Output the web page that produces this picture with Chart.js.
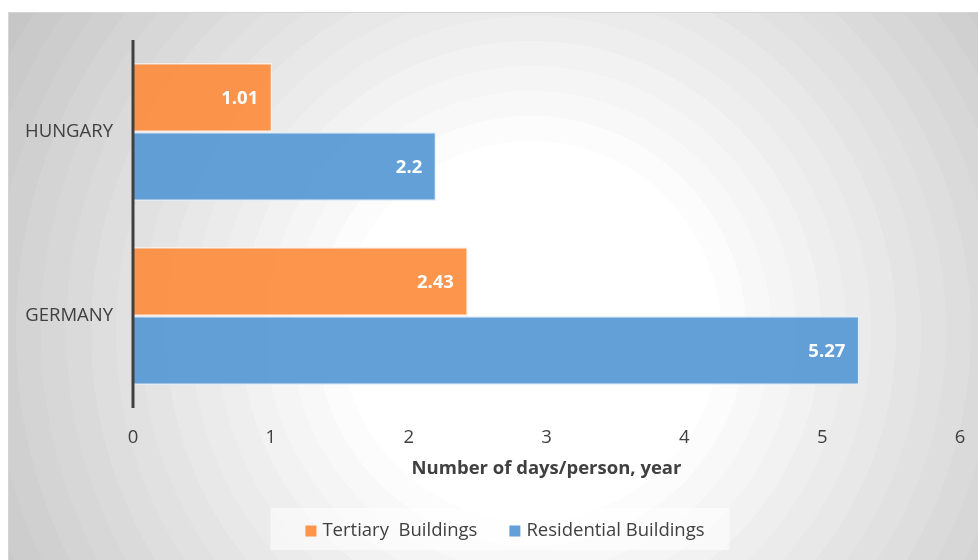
<!DOCTYPE html>
<html>
<head>
<meta charset="utf-8">
<script src="https://cdn.jsdelivr.net/npm/chart.js@4/dist/chart.umd.min.js"></script>
<style>
  html, body { margin: 0; padding: 0; background: #fff; overflow: hidden; }
  #wrap {
    position: absolute; left: 8px; top: 12px; width: 970px; height: 548px;
    border-left: 1px solid #d4d4d4; border-top: 1px solid #d4d4d4;
  }
</style>
</head>
<body>
<div id="wrap"><canvas id="chart"></canvas></div>
<script>
const countries = ['HUNGARY', 'GERMANY'];
const tertiary = [1.01, 2.43];
const residential = [2.2, 5.27];
const seriesNames = ['Tertiary  Buildings', 'Residential Buildings'];
const xTicks = [0, 1, 2, 3, 4, 5, 6];

const FONT = '"Open Sans", "Noto Sans", sans-serif';
const TEXT = '#404040';
const ORANGE = 'rgba(253,140,62,0.92)';
const BLUE = 'rgba(86,152,212,0.92)';

// banded radial backdrop, white in the middle fading to grey at the corners
const backdrop = {
  id: 'backdrop',
  beforeDraw(chart) {
    const { ctx, width, height } = chart;
    const cx = 522, cy = 318, R = 640;
    const g = ctx.createRadialGradient(cx, cy, 0, cx, cy, R);
    const inner = 190 / R;
    g.addColorStop(0, '#ffffff');
    g.addColorStop(inner, '#ffffff');
    const steps = 18;
    for (let i = 0; i < steps; i++) {
      const a = inner + (1 - inner) * i / steps;
      const b = inner + (1 - inner) * (i + 1) / steps;
      const v = Math.round(255 - 60 * (i + 1) / steps);
      const c = `rgb(${v},${v},${v})`;
      g.addColorStop(a + 0.0001, c);
      g.addColorStop(b, c);
    }
    ctx.save();
    ctx.fillStyle = g;
    ctx.fillRect(0, 0, width, height);
    ctx.restore();
  }
};

// value labels inside the end of every bar, then the category axis line on top
const barValues = {
  id: 'barValues',
  afterDatasetsDraw(chart) {
    const { ctx, chartArea } = chart;
    ctx.save();
    ctx.font = 'bold 18.5px ' + FONT;
    ctx.fillStyle = '#ffffff';
    ctx.textAlign = 'right';
    ctx.textBaseline = 'middle';
    chart.data.datasets.forEach((ds, di) => {
      chart.getDatasetMeta(di).data.forEach((bar, i) => {
        ctx.fillText(String(ds.data[i]), bar.x - 14, bar.y + 1);
      });
    });
    const x0 = chart.scales.x.getPixelForValue(0);
    ctx.strokeStyle = '#404040';
    ctx.lineWidth = 3;
    ctx.beginPath();
    ctx.moveTo(x0, chartArea.top);
    ctx.lineTo(x0, chartArea.bottom);
    ctx.stroke();
    ctx.restore();
  }
};

// legend row with a pale box behind it, under the axis title
const legendRow = {
  id: 'legendRow',
  afterDraw(chart) {
    const { ctx } = chart;
    const centerX = 496, centerY = 517;
    const box = 11, gap = 6, itemGap = 32;
    ctx.save();
    ctx.font = '18.5px ' + FONT;
    const items = chart.data.datasets.map(ds => ({
      text: ds.label, color: ds.backgroundColor, w: ctx.measureText(ds.label).width
    }));
    const total = items.reduce((s, it) => s + box + gap + it.w, 0) + itemGap * (items.length - 1);
    let x = centerX - total / 2;
    ctx.fillStyle = 'rgba(255,255,255,0.55)';
    ctx.fillRect(x - 35, centerY - 22, total + 60, 42);
    ctx.textBaseline = 'middle';
    items.forEach(it => {
      ctx.fillStyle = it.color;
      ctx.fillRect(x, centerY + 1 - box / 2, box, box);
      ctx.fillStyle = TEXT;
      ctx.fillText(it.text, x + box + gap, centerY + 1);
      x += box + gap + it.w + itemGap;
    });
    ctx.restore();
  }
};

new Chart(document.getElementById('chart'), {
  type: 'bar',
  data: {
    labels: countries,
    datasets: [
      {
        label: seriesNames[0],
        data: tertiary,
        backgroundColor: ORANGE,
        borderColor: 'rgba(255,240,230,0.8)',
        borderWidth: 1.5,
        categoryPercentage: 0.75,
        barPercentage: 1
      },
      {
        label: seriesNames[1],
        data: residential,
        backgroundColor: BLUE,
        borderColor: 'rgba(225,238,250,0.8)',
        borderWidth: 1.5,
        categoryPercentage: 0.75,
        barPercentage: 1
      }
    ]
  },
  options: {
    indexAxis: 'y',
    responsive: true,
    maintainAspectRatio: false,
    animation: false,
    layout: { padding: { top: 27, right: 19, left: 0, bottom: 52 } },
    scales: {
      x: {
        min: 0,
        max: 6,
        afterBuildTicks(scale) { scale.ticks = xTicks.map(v => ({ value: v })); },
        afterFit(scale) {
          scale.height = 101;
          scale.paddingLeft = 0;
          scale.paddingRight = 0;
        },
        grid: { display: false, drawTicks: false },
        border: { display: false },
        ticks: { color: TEXT, font: { family: FONT, size: 18.5 }, padding: 19 },
        title: {
          display: true,
          text: 'Number of days/person, year',
          color: TEXT,
          font: { family: FONT, size: 18.5, weight: 'bold' },
          padding: { top: 0, bottom: 29 }
        }
      },
      y: {
        afterFit(scale) {
          scale.width = 124;
          scale.paddingTop = 0;
          scale.paddingBottom = 0;
        },
        grid: { display: false, drawTicks: false },
        border: { display: false },
        ticks: { color: TEXT, font: { family: FONT, size: 18.5 }, padding: 20 }
      }
    },
    plugins: {
      legend: { display: false },
      tooltip: { enabled: false }
    }
  },
  plugins: [backdrop, barValues, legendRow]
});
</script>
</body>
</html>
